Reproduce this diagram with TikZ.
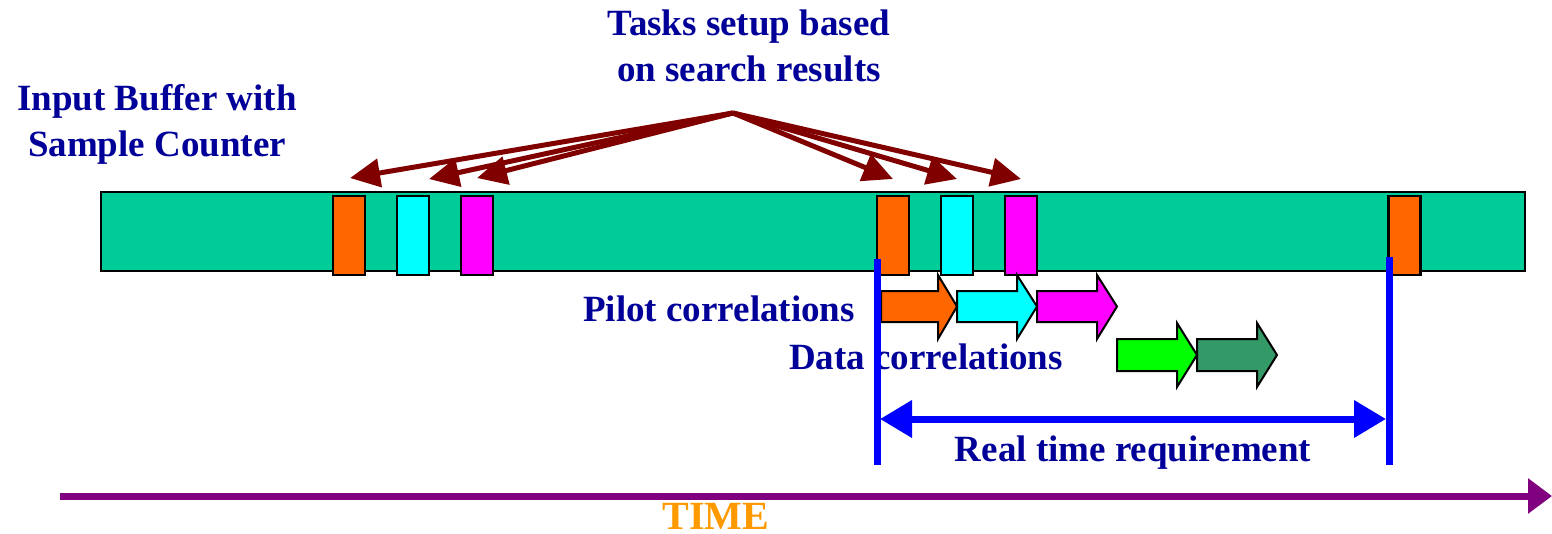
\documentclass[tikz,border=0pt]{standalone}
\usepackage{fontspec}
\setmainfont{Liberation Serif}
\usetikzlibrary{arrows.meta}
\definecolor{barg}{HTML}{00CC99}
\definecolor{sor}{HTML}{FF6600}
\definecolor{scy}{HTML}{00FFFF}
\definecolor{smg}{HTML}{FF00FF}
\definecolor{sgr}{HTML}{00FF00}
\definecolor{sdg}{HTML}{339966}
\definecolor{dred}{HTML}{800000}
\definecolor{sblue}{HTML}{0000FF}
\definecolor{spur}{HTML}{800080}
\definecolor{navy}{HTML}{000099}
\definecolor{tor}{HTML}{FF9900}
\tikzset{
  slot/.style={draw=black, line width=2.5pt, minimum width=32pt, minimum height=79pt, inner sep=0pt},
  lbl/.style={text=navy, font=\fontsize{37}{46}\selectfont\bfseries, inner sep=0pt, align=center},
  setup/.style={draw=dred, line width=5pt, -{Triangle[length=30pt,width=28pt]}, shorten >=0pt},
  rt/.style={draw=sblue, line width=7pt},
  blk/.style={draw=black, line width=2pt, line join=miter},
}
\begin{document}
\begin{tikzpicture}[x=1pt,y=-1pt]
\useasboundingbox (0,0) rectangle (1552,533);
% buffer
\node[draw=black, line width=2.5pt, fill=barg, minimum width=1424pt, minimum height=79pt, inner sep=0pt] (buf) at (813,231.5) {};
% slots
\node[slot, fill=sor] (o1) at (349,235.5) {};
\node[slot, fill=scy] (c1) at (413,235.5) {};
\node[slot, fill=smg] (m1) at (477,235.5) {};
\node[slot, fill=sor] (o2) at (893,235.5) {};
\node[slot, fill=scy] (c2) at (957,235.5) {};
\node[slot, fill=smg] (m2) at (1021,235.5) {};
\node[slot, fill=sor] (o3) at (1404.5,235.5) {};
% labels
\node[lbl] (tasks) at (749,46) {Tasks setup based\\on search results};
\node[lbl] (inbuf) at (157,124) {Input Buffer with\\Sample Counter};
\node[lbl, anchor=west] (pilot) at (583,309) {Pilot correlations};
\node[lbl, anchor=west] (data) at (789,357) {Data correlations};
\node[lbl] (rtr) at (1133,453) {Real time requirement};
\node[text=tor, font=\fontsize{40}{46}\selectfont\bfseries, inner sep=0pt] (time) at (716,516) {TIME};
% setup arrows
\coordinate (apex) at (733,113);
\coordinate (t1) at (350,178);
\coordinate (t2) at (429,179);
\coordinate (t3) at (477,178);
\coordinate (t4) at (893,179);
\coordinate (t5) at (957,179);
\coordinate (t6) at (1021,179);
\foreach \t in {t1,t2,t3,t4,t5,t6} \draw[setup] (apex) -- (\t);
% block arrows
\draw[blk, fill=sor] (881,291) -- (938,291) -- (938,275) -- (957,306.5) -- (938,339) -- (938,322) -- (881,322) -- cycle;
\draw[blk, fill=scy] (957,291) -- (1017,291) -- (1017,275) -- (1037,306.5) -- (1017,339) -- (1017,322) -- (957,322) -- cycle;
\draw[blk, fill=smg] (1037,291) -- (1097,291) -- (1097,275) -- (1117,306.5) -- (1097,339) -- (1097,322) -- (1037,322) -- cycle;
\draw[blk, fill=sgr] (1117,339) -- (1177,339) -- (1177,323) -- (1197,355) -- (1177,387) -- (1177,371) -- (1117,371) -- cycle;
\draw[blk, fill=sdg] (1197,339) -- (1257,339) -- (1257,323) -- (1277,355) -- (1257,387) -- (1257,371) -- (1197,371) -- cycle;
% real time markers
\coordinate (ra) at (877,259);
\coordinate (rb) at (877,465);
\coordinate (rc) at (1389,257);
\coordinate (rd) at (1389,465);
\draw[rt] (ra) -- (rb);
\draw[rt] (rc) -- (rd);
\coordinate (ha) at (880,419);
\coordinate (hb) at (1386,419);
\draw[rt, {Triangle[length=32pt,width=36pt]}-{Triangle[length=32pt,width=36pt]}] (ha) -- (hb);
% time axis
\coordinate (ta) at (60,496);
\coordinate (tb) at (1552,496);
\draw[draw=spur, line width=7pt, -{Triangle[length=24pt,width=34pt]}] (ta) -- (tb);
\end{tikzpicture}
\end{document}
